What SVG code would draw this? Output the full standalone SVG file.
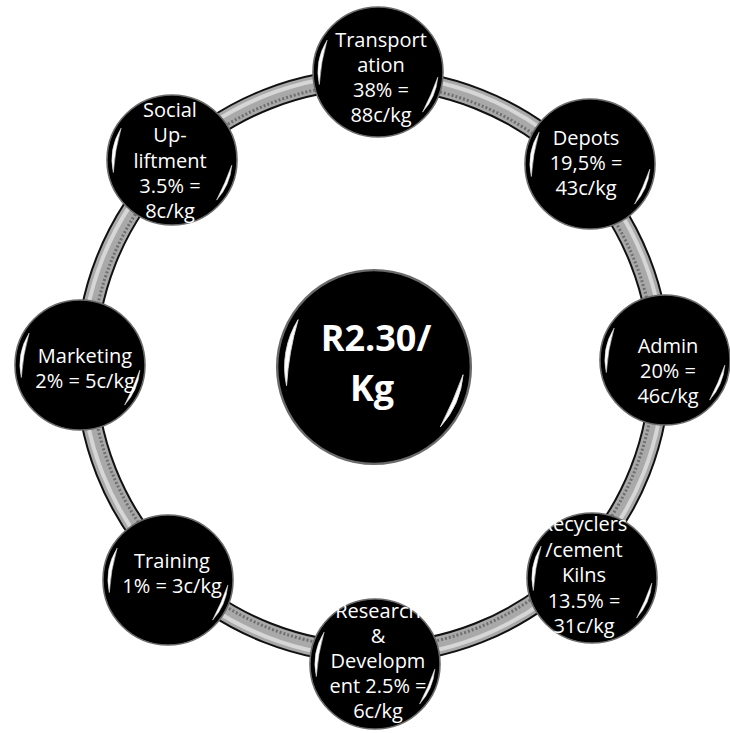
<svg xmlns="http://www.w3.org/2000/svg" xmlns:xlink="http://www.w3.org/1999/xlink" width="730" height="733" viewBox="0 0 730 733">
<defs>
<style>
.lbl{font-family:"Open Sans","Noto Sans","DejaVu Sans",sans-serif;font-size:20px;fill:#ffffff;text-anchor:middle}
.big{font-family:"Open Sans","Noto Sans","DejaVu Sans",sans-serif;font-size:36px;font-weight:bold;fill:#ffffff;text-anchor:middle}
.hl{fill:#ffffff;stroke:#dddddd;stroke-width:0.6}
</style>
<g id="ball">
<circle r="65" fill="#000000" stroke="#6a6a6a" stroke-width="1.6"/>
<path class="hl" d="M-50.9,-31.8 A60,60 0 0 0 -58.7,12.5 A200,200 0 0 1 -50.9,-31.8 Z"/>
<path class="hl" d="M59.8,5.2 A60,60 0 0 1 44.6,40.1 A300,300 0 0 0 59.8,5.2 Z"/>
</g>
</defs>
<rect width="730" height="733" fill="#ffffff"/>
<g id="connectors">
<circle cx="373" cy="366" r="287" fill="none" stroke="#111111" stroke-width="22"/>
<circle cx="373" cy="366" r="287" fill="none" stroke="#a9a9a9" stroke-width="18"/>
<circle cx="373" cy="366" r="282" fill="none" stroke="#6f6f6f" stroke-width="3" stroke-dasharray="2 2"/>
<circle cx="373" cy="366" r="291" fill="none" stroke="#d6d6d6" stroke-width="4"/>
</g>
<g id="center">
<use xlink:href="#ball" transform="translate(374,367) scale(1.49)"/>
<text class="big" x="376" y="351">R2.30/</text>
<text class="big" x="372" y="401">Kg</text>
</g>
<g id="transportation">
<use xlink:href="#ball" transform="translate(378,72)"/>
<text class="lbl" x="381" y="47">Transport</text>
<text class="lbl" x="381" y="72">ation</text>
<text class="lbl" x="381" y="97">38% =</text>
<text class="lbl" x="381" y="122">88c/kg</text>
</g>
<g id="depots">
<use xlink:href="#ball" transform="translate(590,164)"/>
<text class="lbl" x="586" y="145">Depots</text>
<text class="lbl" x="586" y="170">19,5% =</text>
<text class="lbl" x="586" y="195">43c/kg</text>
</g>
<g id="admin">
<use xlink:href="#ball" transform="translate(665,360)"/>
<text class="lbl" x="668" y="353">Admin</text>
<text class="lbl" x="668" y="378">20% =</text>
<text class="lbl" x="668" y="403">46c/kg</text>
</g>
<g id="recyclers">
<use xlink:href="#ball" transform="translate(592,578)"/>
<text class="lbl" x="584" y="531">Recyclers</text>
<text class="lbl" x="584" y="557">/cement</text>
<text class="lbl" x="584" y="582">Kilns</text>
<text class="lbl" x="584" y="608">13.5% =</text>
<text class="lbl" x="584" y="633">31c/kg</text>
</g>
<g id="research">
<use xlink:href="#ball" transform="translate(375,664)"/>
<text class="lbl" x="378" y="618">Research</text>
<text class="lbl" x="378" y="643">&amp;</text>
<text class="lbl" x="378" y="668">Developm</text>
<text class="lbl" x="378" y="693">ent 2.5% =</text>
<text class="lbl" x="378" y="718">6c/kg</text>
</g>
<g id="training">
<use xlink:href="#ball" transform="translate(168,580)"/>
<text class="lbl" x="172" y="568">Training</text>
<text class="lbl" x="172" y="593">1% = 3c/kg</text>
</g>
<g id="marketing">
<use xlink:href="#ball" transform="translate(80,365)"/>
<text class="lbl" x="85" y="363">Marketing</text>
<text class="lbl" x="85" y="388">2% = 5c/kg</text>
</g>
<g id="social">
<use xlink:href="#ball" transform="translate(172,160)"/>
<text class="lbl" x="170" y="117">Social</text>
<text class="lbl" x="170" y="142">Up-</text>
<text class="lbl" x="170" y="168">liftment</text>
<text class="lbl" x="170" y="193">3.5% =</text>
<text class="lbl" x="170" y="218">8c/kg</text>
</g>
</svg>
